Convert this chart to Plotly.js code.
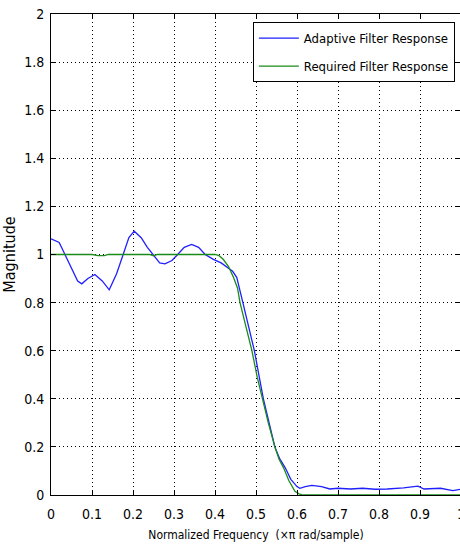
<!DOCTYPE html>
<html>
<head>
<meta charset="utf-8">
<script src="https://cdn.plot.ly/plotly-3.0.1.min.js"></script>
<style>
html,body{margin:0;padding:0;overflow:hidden;background:#fff;}
#chart{width:462px;height:548px;}
</style>
</head>
<body>
<div id="chart"></div>
<script>
// Adaptive filter response (blue)
var adaptiveFreq = [0, 0.02, 0.034, 0.05, 0.065, 0.075, 0.09, 0.107, 0.125, 0.142, 0.16, 0.176, 0.19, 0.203, 0.22, 0.235, 0.25, 0.265, 0.278, 0.295, 0.309, 0.325, 0.343, 0.36, 0.376, 0.396, 0.415, 0.43, 0.443, 0.453, 0.46, 0.468, 0.482, 0.496, 0.508, 0.518, 0.532, 0.546, 0.558, 0.571, 0.585, 0.6, 0.607, 0.62, 0.636, 0.66, 0.68, 0.70, 0.73, 0.76, 0.79, 0.82, 0.86, 0.895, 0.91, 0.95, 0.98, 1.0];
var adaptiveMag  = [1.065, 1.05, 1.0, 0.94, 0.89, 0.878, 0.9, 0.917, 0.89, 0.853, 0.92, 1.0, 1.07, 1.097, 1.07, 1.03, 0.995, 0.965, 0.961, 0.975, 1.0, 1.03, 1.042, 1.03, 1.0, 0.98, 0.965, 0.947, 0.93, 0.905, 0.86, 0.8, 0.7, 0.6, 0.49, 0.4, 0.3, 0.2, 0.15, 0.114, 0.065, 0.035, 0.028, 0.035, 0.04, 0.035, 0.025, 0.028, 0.025, 0.028, 0.024, 0.025, 0.03, 0.037, 0.025, 0.028, 0.018, 0.024];

// Required filter response (green)
var requiredFreq = [0, 0.1, 0.115, 0.13, 0.14, 0.24, 0.25, 0.26, 0.4, 0.41, 0.42, 0.433, 0.445, 0.455, 0.461, 0.475, 0.49, 0.503, 0.515, 0.53, 0.546, 0.556, 0.567, 0.58, 0.595, 0.605, 0.615, 1.0];
var requiredMag  = [1.0, 1.0, 0.995, 0.995, 1.0, 1.0, 0.995, 1.0, 1.0, 0.995, 0.98, 0.95, 0.905, 0.86, 0.8, 0.7, 0.6, 0.49, 0.4, 0.3, 0.2, 0.15, 0.114, 0.06, 0.015, 0.005, 0, 0];

var xTicks = [0, 0.1, 0.2, 0.3, 0.4, 0.5, 0.6, 0.7, 0.8, 0.9, 1];
var xTickText = ['0', '0.1', '0.2', '0.3', '0.4', '0.5', '0.6', '0.7', '0.8', '0.9', '1'];
var yTicks = [0, 0.2, 0.4, 0.6, 0.8, 1, 1.2, 1.4, 1.6, 1.8, 2];
var yTickText = ['0', '0.2', '0.4', '0.6', '0.8', '1', '1.2', '1.4', '1.6', '1.8', '2'];

var FONT = '"DejaVu Sans Condensed", "Liberation Sans Narrow", "Arial Narrow", sans-serif';

var traces = [
  {x: adaptiveFreq, y: adaptiveMag, type: 'scatter', mode: 'lines', name: 'Adaptive Filter Response',
   legendgroup: 'a', line: {color: '#1f1fff', width: 1.3}},
  {x: requiredFreq, y: requiredMag, type: 'scatter', mode: 'lines', name: 'Required Filter Response',
   legendgroup: 'b', line: {color: '#1a8a1a', width: 1.3}}
];

var axisCommon = {
  showline: true, linecolor: '#000', linewidth: 1, mirror: 'ticks',
  ticks: 'inside', ticklen: 5, tickcolor: '#000', tickwidth: 1,
  showgrid: true, gridcolor: '#000', gridwidth: 1, griddash: '1px,3px',
  zeroline: false, ticklabeloverflow: 'allow',
  tickfont: {family: FONT, size: 14, color: '#000'}
};

var layout = {
  width: 462, height: 548,
  margin: {l: 51, r: 1, t: 14, b: 53},
  paper_bgcolor: '#fff', plot_bgcolor: '#fff',
  font: {family: FONT, color: '#000'},
  showlegend: true,
  legend: {x: 0.985, y: 0.983, xanchor: 'right', yanchor: 'top',
           bgcolor: '#fff', bordercolor: '#000', borderwidth: 1,
           font: {family: FONT, size: 13, color: '#000'}, itemwidth: 40,
           tracegroupgap: 8},
  xaxis: Object.assign({}, axisCommon, {
    range: [0, 1], tickvals: xTicks, ticktext: xTickText, ticklabelstandoff: 6,
    title: {text: 'Normalized Frequency  (×π rad/sample)', font: {family: FONT, size: 12, color: '#000'}, standoff: 9}
  }),
  yaxis: Object.assign({}, axisCommon, {
    range: [0, 2], tickvals: yTicks, ticktext: yTickText, ticklabelstandoff: 3,
    title: {text: 'Magnitude', font: {family: FONT, size: 16, color: '#000'}, standoff: 4}
  })
};

Plotly.newPlot('chart', traces, layout, {displayModeBar: false, staticPlot: true});
</script>
</body>
</html>
